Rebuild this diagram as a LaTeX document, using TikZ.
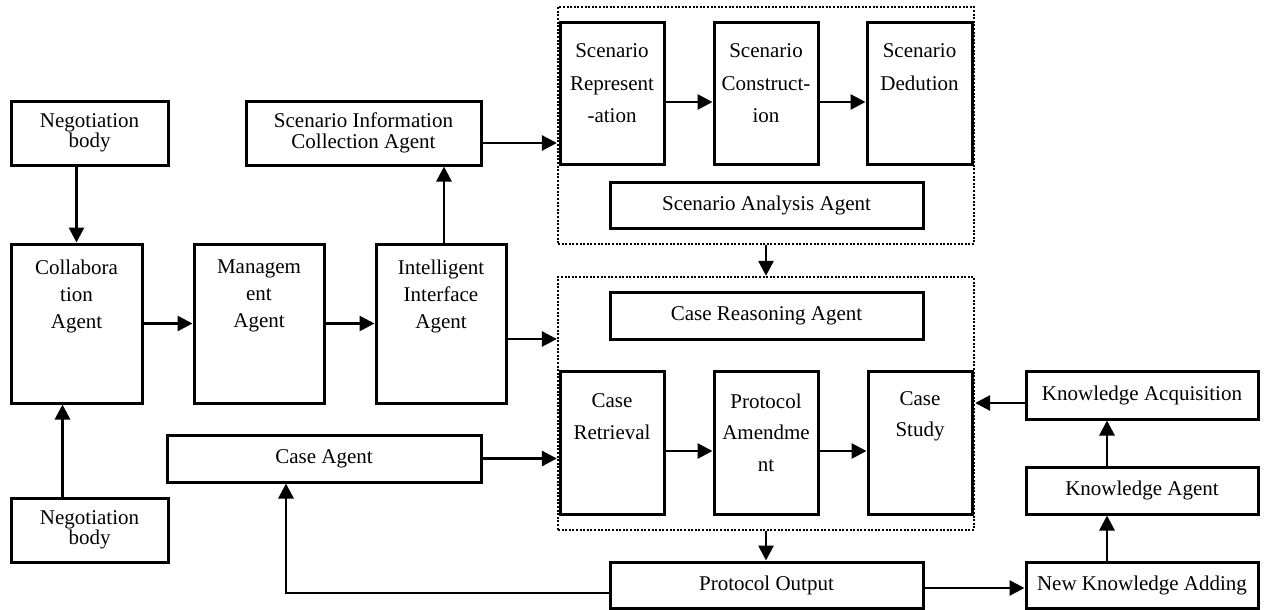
\documentclass[tikz,border=0pt]{standalone}
\usepackage{fontspec}
\setmainfont{Liberation Serif}
\usetikzlibrary{arrows.meta,calc}

\tikzset{
  box/.style={draw, line width=3pt, inner sep=0pt, align=center,
              font=\fontsize{21}{20.5}\selectfont},
  group/.style={draw, line width=2.3pt, dash pattern=on 2pt off 1.6pt, inner sep=0pt},
  arr/.style={line width=2.8pt, -{Triangle[length=15pt,width=15pt]}},
  lbl/.style={inner sep=0pt, align=center},
  scen/.style={lbl, font=\fontsize{21}{32.5}\selectfont},
  casel/.style={lbl, font=\fontsize{21}{31.5}\selectfont},
  agentl/.style={lbl, font=\fontsize{21}{27}\selectfont},
}

\begin{document}
\begin{tikzpicture}[x=1pt,y=-1pt]
\useasboundingbox (0,0) rectangle (1264,610);

% dotted group frames
\node[group, minimum width=416pt, minimum height=237pt] (scenG) at (766,125.5) {};
\node[group, minimum width=416pt, minimum height=253pt] (caseG) at (766,403.5) {};

% left column
\node[box, minimum width=157pt, minimum height=64pt] (nbt) at (89.5,133) {Negotiation\\body};
\node[box, minimum width=131pt, minimum height=159pt] (collab) at (76.5,323.5) {};
\node[agentl] (collab-l) at (76.5,296) {Collabora\\tion\\Agent};
\node[box, minimum width=157pt, minimum height=64pt] (nbb) at (89.5,530) {Negotiation\\body};

% middle row
\node[box, minimum width=130pt, minimum height=159pt] (mgmt) at (259,323.5) {};
\node[agentl] (mgmt-l) at (259,296) {Managem\\ent\\Agent};
\node[box, minimum width=130pt, minimum height=159pt] (ii) at (441,323.5) {};
\node[agentl] (ii-l) at (441,296) {Intelligent\\Interface\\Agent};
\node[box, minimum width=235pt, minimum height=64pt] (sica) at (363.5,133) {Scenario Information\\Collection Agent};
\node[box, minimum width=314pt, minimum height=47pt] (caseag) at (324,458.5) {Case Agent};

% scenario group
\node[box, minimum width=104pt, minimum height=141pt] (rep) at (612,93.5) {};
\node[scen] (rep-l) at (612,83.5) {Scenario\\Represent\\-ation};
\node[box, minimum width=104pt, minimum height=141pt] (con) at (766,93.5) {};
\node[scen] (con-l) at (766,83.5) {Scenario\\Construct-\\ion};
\node[box, minimum width=105pt, minimum height=141pt] (ded) at (919.5,93.5) {};
\node[scen] (ded-l) at (919.5,67) {Scenario\\Dedution};
\node[box, minimum width=313pt, minimum height=46pt] (saa) at (766.5,205) {Scenario Analysis Agent};

% case group
\node[box, minimum width=313pt, minimum height=47pt] (cra) at (766.5,315.5) {Case Reasoning Agent};
\node[box, minimum width=104pt, minimum height=143pt] (ret) at (612,442.5) {};
\node[casel] (ret-l) at (612,416.5) {Case\\Retrieval};
\node[box, minimum width=104pt, minimum height=143pt] (amd) at (766,442.5) {};
\node[casel] (amd-l) at (766,432.5) {Protocol\\Amendme\\nt};
\node[box, minimum width=104pt, minimum height=143pt] (stu) at (920,442.5) {};
\node[casel] (stu-l) at (920,416.5) {Case\\Study};

% output and knowledge chain
\node[box, minimum width=313pt, minimum height=46pt] (po) at (766.5,585) {Protocol Output};
\node[box, minimum width=232pt, minimum height=48pt] (ka) at (1142,395) {Knowledge Acquisition};
\node[box, minimum width=232pt, minimum height=47pt] (kag) at (1142,490.5) {Knowledge Agent};
\node[box, minimum width=232pt, minimum height=46pt] (nka) at (1142,585) {New Knowledge Adding};

% connectors
\draw[arr] (nbt.south -| collab.north) -- (collab.north);
\draw[arr] ([xshift=53pt]nbb.north west) -- ([xshift=53pt]nbb.north west |- collab.south);
\draw[arr] (collab.east) -- (mgmt.west);
\draw[arr] (mgmt.east) -- (ii.west);
\draw[arr] ([xshift=3pt]ii.north) -- ([xshift=3pt]ii.north |- sica.south);

\coordinate (s1) at ([yshift=-10pt]sica.east);
\draw[arr] (s1) -- (s1 -| scenG.west);
\coordinate (i1) at ([yshift=-15.5pt]ii.east);
\draw[arr] (i1) -- (i1 -| caseG.west);
\draw[arr] (caseag.east) -- (caseag.east -| caseG.west);

\coordinate (r1) at ([yshift=-8.5pt]rep.east);
\draw[arr] (r1) -- (r1 -| con.west);
\coordinate (c1) at ([yshift=-8.5pt]con.east);
\draw[arr] (c1) -- (c1 -| ded.west);

\draw[arr] (scenG.south) -- (caseG.north);

\coordinate (t1) at ([yshift=-8.5pt]ret.east);
\draw[arr] (t1) -- (t1 -| amd.west);
\coordinate (t2) at ([yshift=-8.5pt]amd.east);
\draw[arr] (t2) -- (t2 -| stu.west);

\draw[arr] (caseG.south) -- (caseG.south |- po.north);

\coordinate (p1) at ([yshift=-8pt]po.west);
\coordinate (p2) at ([xshift=-38pt]caseag.south);
\draw[arr] (p1) -| (p2);
\coordinate (p3) at ([yshift=-3pt]po.east);
\draw[arr] (p3) -- (p3 -| nka.west);

\draw[arr] ([xshift=-35pt]nka.north) -- ([xshift=-35pt]kag.south);
\draw[arr] ([xshift=-35pt]kag.north) -- ([xshift=-35pt]ka.south);
\coordinate (k1) at ([yshift=-8pt]ka.west);
\draw[arr] (k1) -- (k1 -| caseG.east);
\end{tikzpicture}
\end{document}
